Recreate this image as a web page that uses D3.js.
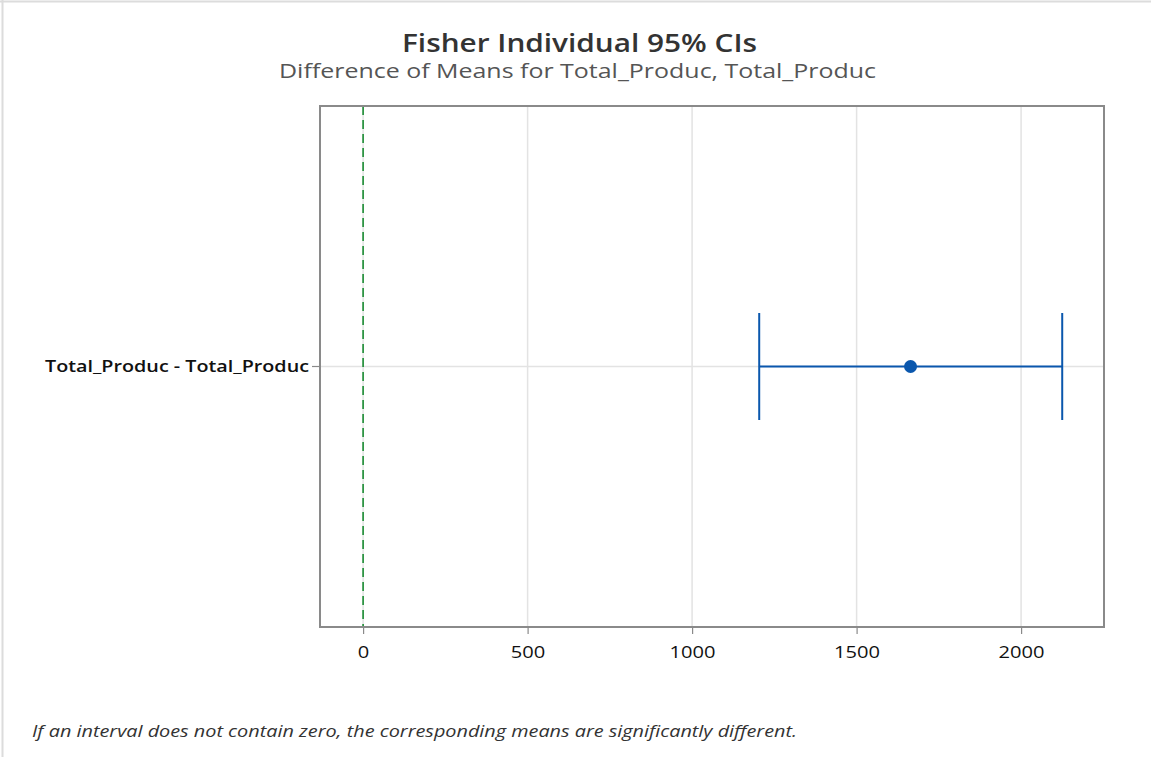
<!DOCTYPE html>
<html><head><meta charset="utf-8">
<script src="https://cdn.jsdelivr.net/npm/d3@7"></script>
<style>
html,body{margin:0;padding:0;background:#fff;}
svg{display:block;}
</style></head>
<body>
<svg id="chart" width="1151" height="767"></svg>
<script>
const title = "Fisher Individual 95% CIs";
const subtitle = "Difference of Means for Total_Produc, Total_Produc";
const footnote = "If an interval does not contain zero, the corresponding means are significantly different.";
const categories = ["Total_Produc - Total_Produc"];
const means = [1664];
const lowers = [1204];
const uppers = [2125];
const xTicks = [0, 500, 1000, 1500, 2000];
const xDomain = [-131, 2252];
const refValue = 0;

const svg = d3.select("#chart");
const font = "'Open Sans','Noto Sans',sans-serif";
const W = 1151, H = 767;
const m = {left:320, right:1104, top:106, bottom:627};

// outer frame (partial light border)
svg.append("line").attr("x1",0).attr("x2",W).attr("y1",1.5).attr("y2",1.5).attr("stroke","#dcdcdc").attr("stroke-width",2);
svg.append("line").attr("x1",2.5).attr("x2",2.5).attr("y1",0).attr("y2",757).attr("stroke","#dcdcdc").attr("stroke-width",2);

const x = d3.scaleLinear().domain(xDomain).range([m.left, m.right]);
const y = d3.scaleBand().domain(categories).range([m.top, m.bottom]).paddingInner(0).paddingOuter(0);

// gridlines
svg.append("g").selectAll("line").data(xTicks).join("line")
  .attr("x1", d=>x(d)).attr("x2", d=>x(d)).attr("y1", m.top).attr("y2", m.bottom)
  .attr("stroke","#e3e3e3").attr("stroke-width",1.5);
svg.append("g").selectAll("line").data(categories).join("line")
  .attr("x1", m.left).attr("x2", m.right)
  .attr("y1", d=>y(d)+y.bandwidth()/2).attr("y2", d=>y(d)+y.bandwidth()/2)
  .attr("stroke","#e3e3e3").attr("stroke-width",1.5);

// reference line
svg.append("line").attr("x1",x(refValue)).attr("x2",x(refValue)).attr("y1",m.top).attr("y2",m.bottom)
  .attr("stroke","#1a8c32").attr("stroke-width",1.6).attr("stroke-dasharray","9,5");

// frame
svg.append("rect").attr("x",m.left).attr("y",m.top).attr("width",m.right-m.left).attr("height",m.bottom-m.top)
  .attr("fill","none").attr("stroke","#8a8a8a").attr("stroke-width",2);

// x axis
const xAxis = d3.axisBottom(x).tickValues(xTicks).tickSize(7).tickPadding(12).tickFormat(d3.format("d"));
const gx = svg.append("g").attr("transform",`translate(0,${m.bottom})`).call(xAxis);
gx.select(".domain").remove();
gx.selectAll(".tick line").attr("stroke","#8a8a8a").attr("stroke-width",1.2);
gx.selectAll("text").attr("font-family",font).attr("font-size",17).attr("fill","#111")
  .attr("textLength", d=>String(d).length*11.5).attr("lengthAdjust","spacingAndGlyphs");

// y axis
const yAxis = d3.axisLeft(y).tickSize(8).tickPadding(3);
const gy = svg.append("g").attr("transform",`translate(${m.left},0)`).call(yAxis);
gy.select(".domain").remove();
gy.selectAll(".tick line").attr("stroke","#8a8a8a").attr("stroke-width",1.2);
gy.selectAll("text").attr("font-family",font).attr("font-size",16.5).attr("font-weight",600).attr("fill","#111")
  .attr("textLength",264).attr("lengthAdjust","spacingAndGlyphs");

// intervals
const blue = "#0a57ad";
const capH = 107;
const g = svg.append("g");
categories.forEach((c,i)=>{
  const cy = y(c)+y.bandwidth()/2;
  g.append("line").attr("x1",x(lowers[i])).attr("x2",x(uppers[i])).attr("y1",cy).attr("y2",cy)
    .attr("stroke",blue).attr("stroke-width",2);
  [lowers[i], uppers[i]].forEach(v=>{
    g.append("line").attr("x1",x(v)).attr("x2",x(v)).attr("y1",cy-capH/2).attr("y2",cy+capH/2)
      .attr("stroke",blue).attr("stroke-width",2);
  });
  g.append("circle").attr("cx",x(means[i])).attr("cy",cy).attr("r",6.5).attr("fill",blue);
});

// titles
svg.append("text").attr("x",579.5).attr("y",52).attr("text-anchor","middle")
  .attr("font-family",font).attr("font-size",25).attr("font-weight",600).attr("fill","#333")
  .attr("textLength",355).attr("lengthAdjust","spacingAndGlyphs").text(title);
svg.append("text").attr("x",577.5).attr("y",78).attr("text-anchor","middle")
  .attr("font-family",font).attr("font-size",20).attr("fill","#555")
  .attr("textLength",597).attr("lengthAdjust","spacingAndGlyphs").text(subtitle);
svg.append("text").attr("x",32).attr("y",737)
  .attr("font-family",font).attr("font-size",16).attr("font-style","italic").attr("fill","#333")
  .attr("textLength",765).attr("lengthAdjust","spacingAndGlyphs").text(footnote);
</script>
</body></html>
